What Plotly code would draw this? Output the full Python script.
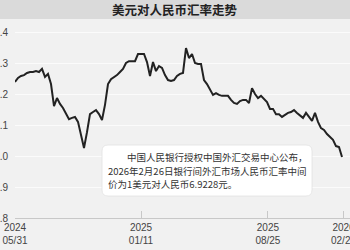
import plotly.graph_objects as go

title = "美元对人民币汇率走势"
note_lines = ["　　中国人民银行授权中国外汇交易中心公布，",
              "2026年2月26日银行间外汇市场人民币汇率中间",
              "价为1美元对人民币6.9228元。"]

rates = [7.239, 7.252, 7.258, 7.261, 7.268, 7.271, 7.271, 7.274, 7.271, 7.281,
         7.255, 7.265, 7.232, 7.161, 7.187, 7.168, 7.155, 7.135, 7.119, 7.123,
         7.126, 7.110, 7.065, 7.026, 7.077, 7.135, 7.142, 7.148, 7.135, 7.116,
         7.165, 7.232, 7.248, 7.255, 7.261, 7.271, 7.281, 7.300, 7.306, 7.306,
         7.306, 7.329, 7.329, 7.329, 7.303, 7.258, 7.303, 7.274, 7.290, 7.284,
         7.261, 7.245, 7.242, 7.245, 7.258, 7.265, 7.268, 7.348, 7.316, 7.329,
         7.300, 7.297, 7.297, 7.245, 7.232, 7.213, 7.197, 7.203, 7.197, 7.194,
         7.194, 7.194, 7.181, 7.171, 7.168, 7.177, 7.181, 7.181, 7.171, 7.219,
         7.200, 7.187, 7.194, 7.184, 7.174, 7.152, 7.152, 7.135, 7.135, 7.126,
         7.132, 7.139, 7.142, 7.148, 7.139, 7.132, 7.123, 7.139, 7.126, 7.113,
         7.139, 7.110, 7.090, 7.084, 7.071, 7.061, 7.052, 7.032, 7.029, 6.997]
day_index = list(range(len(rates)))

tick_pos = [0, 42, 84.3, 109.5]
tick_text = ["2024<br>05/31", "2025<br>01/11", "2025<br>08/25", "2026<br>02/26"]
y_ticks = [6.8, 6.9, 7.0, 7.1, 7.2, 7.3, 7.4]

W, H = 350, 250
L, R, T, B = 15, 0, 25, 32
pw, ph = W - L - R, H - T - B

def px(x):
    return (x - L) / pw

def py(y):
    return (H - B - y) / ph

fig = go.Figure()
fig.add_trace(go.Scatter(x=day_index, y=rates, mode="lines",
                         line=dict(color="#222222", width=2), hoverinfo="skip"))

# rounded box
x0, x1, y0, y1, r = 102, 312, 145, 196, 6
rx, ry = r / pw, r / ph
X0, X1, Y0, Y1 = px(x0), px(x1), py(y1), py(y0)
path = (f"M{X0+rx},{Y1} L{X1-rx},{Y1} Q{X1},{Y1} {X1},{Y1-ry} "
        f"L{X1},{Y0+ry} Q{X1},{Y0} {X1-rx},{Y0} L{X0+rx},{Y0} "
        f"Q{X0},{Y0} {X0},{Y0+ry} L{X0},{Y1-ry} Q{X0},{Y1} {X0+rx},{Y1} Z")

shapes = [
    dict(type="rect", xref="paper", yref="paper", x0=px(0), x1=px(W), y0=py(0), y1=py(19),
         fillcolor="#dadada", line=dict(width=0), layer="below"),
    dict(type="path", xref="paper", yref="paper", path=path,
         fillcolor="#ffffff", line=dict(color="#e2e2e2", width=0.8)),
]

annotations = [
    dict(text=title, xref="paper", yref="paper", x=px(W / 2), y=py(10),
         xanchor="center", yanchor="middle", showarrow=False,
         font=dict(family="Noto Sans CJK SC", size=12.5, color="#222222", weight="bold")),
]
for i, line in enumerate(note_lines):
    annotations.append(dict(text=line, xref="paper", yref="paper", x=px(106), y=py(157 + 13.5 * i),
                            xanchor="left", yanchor="middle", align="left", showarrow=False,
                            font=dict(family="Noto Sans CJK SC", size=9.5, color="#333333")))

fig.update_layout(
    width=W, height=H, margin=dict(l=L, r=R, t=T, b=B, autoexpand=False),
    paper_bgcolor="#f1f1f1", plot_bgcolor="#f1f1f1",
    showlegend=False, shapes=shapes, annotations=annotations,
    font=dict(family="Noto Sans CJK SC"),
    xaxis=dict(range=[0, pw / 3], tickvals=tick_pos, ticktext=tick_text,
               showgrid=False, zeroline=False, showline=True, linecolor="#c8c8c8",
               ticks="inside", ticklen=7, tickcolor="#c8c8c8", automargin=False,
               ticklabeloverflow="allow",
               tickfont=dict(family="Liberation Sans", size=10, color="#444444")),
    yaxis=dict(range=[6.8, 6.8 + ph / 310], tickvals=y_ticks, tickformat=".1f",
               showgrid=True, gridcolor="#fbfbfb", gridwidth=1, zeroline=False,
               showline=False, ticks="", ticklabelstandoff=6, automargin=False,
               ticklabeloverflow="allow",
               tickfont=dict(family="Liberation Sans", size=10, color="#444444")),
)

fig.write_html("out.html")
